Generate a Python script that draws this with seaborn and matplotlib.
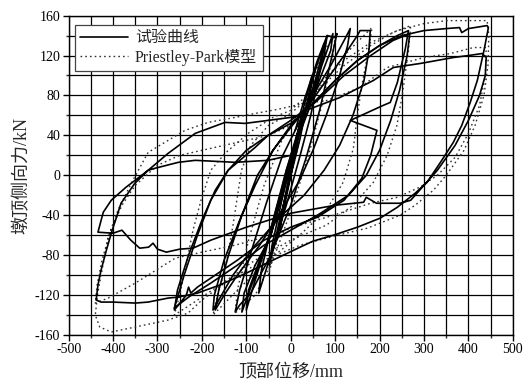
import numpy as np
import pandas as pd
import seaborn as sns
import matplotlib.pyplot as plt
from matplotlib.lines import Line2D

# -------------------------------
# STYLE
# -------------------------------
sns.set_theme(style="white")
plt.rcParams["font.family"] = ["Liberation Serif", "Noto Sans CJK SC", "DejaVu Sans"]
plt.rcParams["axes.unicode_minus"] = False

# -------------------------------
# DATA (displacement mm / force kN)
# -------------------------------
# test curve: small cycles around the origin
test_small_x = [0, 12, 25, 20, 5, -10, -25, -20, -5, 10, 30, 48, 42, 20, 0, -25, -48, -42, -20, 5,
                30, 55, 75, 68, 45, 20, -10, -45, -72, -66, -40, -10, 20, 55, 82, 100, 104, 92, 65, 35,
                0, -45, -90, -115, -125, -115, -88, -55, -20, 10]
test_small_y = [0, 32, 62, 45, 10, -22, -55, -38, -5, 30, 70, 100, 82, 35, 0, -45, -90, -70, -25, 20,
                60, 105, 132, 110, 60, 18, -30, -80, -118, -95, -45, 5, 45, 95, 140, 138, 142, 118, 65, 18,
                -30, -80, -118, -130, -137, -115, -75, -28, 18, 45]

# test curve: repeated cycles through the pinch points
test_repeat_x = [10, 30, 60, 82, 75, 50, 25, 0, -30, -55, -80, -100, -95, -70, -45, -20, 10, 40, 70,
                 95, 90, 60, 28, -10, -46, -80, -110, -105, -80, -46, -10, 25]
test_repeat_y = [45, 75, 115, 140, 120, 85, 55, 15, -30, -70, -105, -135, -115, -85, -60, -20, 30, 65,
                 110, 142, 125, 90, 62, 5, -60, -100, -137, -118, -90, -62, -5, 60]

# test curve: +-135 / +-175 cycles
test_mid_x = [10, 50, 90, 120, 134, 128, 110, 80, 50, 20, -20, -70, -120, -150, -170, -162, -140, -110,
              -75, -40, 0, 40, 80, 120, 150, 156, 179, 176, 165, 140, 110, 75, 30, -20, -80, -130, -175,
              -172, -150, -115, -80, -40, 0]
test_mid_y = [45, 80, 110, 135, 147, 130, 100, 60, 25, -5, -35, -70, -100, -120, -135, -115, -80, -40,
              0, 25, 48, 70, 95, 120, 140, 145, 145, 125, 95, 60, 30, 5, -20, -40, -70, -100, -135,
              -120, -85, -45, -10, 25, 50]

# test curve: +-265 cycles
test_265_x = [0, 50, 100, 150, 200, 240, 265, 258, 240, 224, 208, 134, 194, 180, 160, 120, 60, 0, -60,
              -120, -170, -210, -225, -230, -235, -262, -255, -230, -200, -170, -141, -100, -51, 0, 60,
              120, 180, 230, 268, 262, 245, 225, 200, 170, 130, 60, 0, -60, -120, -180, -230, -262]
test_265_y = [50, 72, 95, 115, 130, 140, 145, 127, 93, 73, 70, 55, 45, 20, -3, -25, -42, -52, -65,
              -85, -100, -112, -118, -112, -120, -135, -115, -80, -45, -15, 5, 25, 40, 52, 75,
              100, 120, 135, 142, 120, 85, 55, 25, 0, -20, -40, -55, -70, -90, -108, -122, -133]

# test curve: +-440 cycles
test_440_x = [-262, -240, -210, -180, -141, -80, -51, 0, 50, 100, 150, 200, 250, 300, 350, 380, 385,
              400, 442, 445, 435, 420, 404, 385, 366, 340, 307, 280, 240, 201, 150, 96, 50, 21, -40,
              -100, -160, -210, -253, -276, -321, -350, -400, -427, -438, -434, -427, -415, -404,
              -382, -351, -321, -306, -253, -215, -125, -51, 0, 20, 40, 111, 186, 231, 291, 366, 400,
              431, 440, 438, 425, 400, 370, 330, 290, 270, 246, 193, 170, 164, 100, 0, -100, -180,
              -220, -250, -280, -300, -310, -320, -340, -360, -380, -400, -434, -422, -404, -371,
              -321, -276, -215, -148, -103, -51, 0, 21]
test_440_y = [-133, -100, -60, -25, 5, 28, 40, 55, 72, 95, 115, 130, 140, 145, 147, 148, 143,
              147, 150, 148, 125, 95, 73, 50, 33, 15, -7, -18, -32, -43, -52, -60, -66, -72, -85,
              -98, -110, -118, -122, -123, -127, -128, -127, -127, -125, -110, -95, -75, -58,
              -28, -8, 5, 7, 13, 15, 13, 15, 20, 45, 66, 78, 95, 108, 112, 118, 120,
              122, 118, 100, 80, 55, 30, 5, -15, -25, -28, -28, -22, -27, -30, -38, -52, -65,
              -73, -74, -77, -74, -68, -72, -73, -65, -55, -58, -57, -37, -25, -12,
              5, 22, 42, 53, 52, 55, 58, 60]

# Priestley-Park model
model_small_x = [0, 25, 50, 45, 20, -5, -25, -50, -45, -20, 5, 40, 75, 100, 95, 70, 40, 5, -40, -80,
                 -125, -120, -95, -60, -20, 10]
model_small_y = [0, 55, 100, 85, 35, -10, -55, -100, -85, -35, 15, 85, 125, 140, 120, 70, 20, -30, -85,
                 -120, -138, -115, -65, -10, 35, 55]

model_mid_x = [10, 60, 120, 160, 183, 175, 160, 150, 141, 118, 80, 20, -50, -120, -175, -165, -148,
               -130, -111, -90, -50, 0]
model_mid_y = [55, 85, 120, 138, 148, 125, 90, 60, 27, -7, -35, -60, -85, -115, -140, -120, -95,
               -50, 5, 30, 50, 62]

model_265_x = [0, 60, 120, 180, 230, 270, 265, 251, 239, 217, 186, 140, 80, 0, -80, -160, -220, -262,
               -250, -238, -220, -202, -180, -148, -96, -40, 0]
model_265_y = [62, 85, 110, 130, 143, 150, 125, 80, 50, 20, -7, -30, -50, -65, -85, -110, -128, -140,
               -120, -95, -55, -25, 5, 22, 42, 58, 65]

model_440_x = [0, 60, 120, 180, 240, 300, 352, 404, 442, 446, 444, 435, 415, 390, 350, 321, 280, 246,
               172, 96, 21, -60, -140, -200, -231, -276, -350, -404, -430, -440, -435, -429, -411, -389,
               -359, -321, -276, -238, -186, -125, -80, -30, 30, 82, 156, 217, 300, 360, 411, 440, 438,
               425, 400, 370, 330, 290, 240, 180, 96, 21, -60, -125, -200, -260, -350, -411, -440,
               -436, -425, -405, -380, -350, -300, -250, -150, -50, 0]
model_440_y = [65, 90, 115, 133, 145, 152, 155, 155, 155, 140, 110, 80, 50, 25, 0, -15, -30, -40,
               -53, -61, -70, -85, -105, -125, -138, -145, -152, -157, -152, -140, -120, -105, -62, -35,
               -8, 23, 35, 45, 53, 58, 62, 66, 72, 75, 88, 108, 118, 122, 128, 128, 100,
               70, 42, 18, 0, -12, -22, -28, -40, -50, -62, -70, -77, -83, -108, -123, -128,
               -110, -85, -55, -30, -10, 10, 20, 30, 40, 50]

test_parts = [(test_small_x, test_small_y), (test_repeat_x, test_repeat_y),
              (test_mid_x, test_mid_y), (test_265_x, test_265_y), (test_440_x, test_440_y)]
model_parts = [(model_small_x, model_small_y), (model_mid_x, model_mid_y),
               (model_265_x, model_265_y), (model_440_x, model_440_y)]

# -------------------------------
# PLOT
# -------------------------------
fig = plt.figure(figsize=(5.32, 3.90), dpi=100)
ax = fig.add_axes([0.129, 0.141, 0.835, 0.819])

dot_style = (0, (1.2, 2.2))
for mx, my in model_parts:
    sns.lineplot(x=mx, y=my, sort=False, estimator=None, ax=ax, color="#333333",
                 lw=1.0, linestyle=dot_style)
for tx, ty in test_parts:
    sns.lineplot(x=tx, y=ty, sort=False, estimator=None, ax=ax, color="black", lw=1.2)

ax.set_xlim(-500, 500)
ax.set_ylim(-160, 160)
ax.set_xticks(np.arange(-500, 501, 100))
ax.set_xticks(np.arange(-450, 500, 100), minor=True)
ax.set_yticks(np.arange(-160, 161, 40))
ax.set_yticks(np.arange(-140, 160, 40), minor=True)
ax.grid(True, which="both", color="black", lw=0.9)
ax.set_axisbelow(True)
for s in ax.spines.values():
    s.set_color("black")
    s.set_linewidth(1.0)
ax.tick_params(which="major", direction="out", length=4, width=1, colors="black",
               labelsize=10, bottom=True, left=True, pad=2)
ax.tick_params(which="minor", direction="out", length=2, width=1, bottom=True, left=True)

ax.set_xlabel("顶部位移/mm", fontsize=13, labelpad=6)
ax.set_ylabel("墩顶侧向力/kN", fontsize=13, labelpad=3)

handles = [Line2D([], [], color="black", lw=1.2),
           Line2D([], [], color="#333333", lw=1.0, linestyle=dot_style)]
leg = ax.legend(handles, ["试验曲线", "Priestley-Park模型"], loc="upper left",
                bbox_to_anchor=(0.014, 0.972), borderaxespad=0, fancybox=False,
                framealpha=1, edgecolor="#444444", fontsize=11.5, handlelength=3.0,
                labelspacing=0.15, borderpad=0.35, handletextpad=0.4)
leg.get_frame().set_linewidth(0.9)

plt.savefig("out.png", dpi=100)
plt.close()
